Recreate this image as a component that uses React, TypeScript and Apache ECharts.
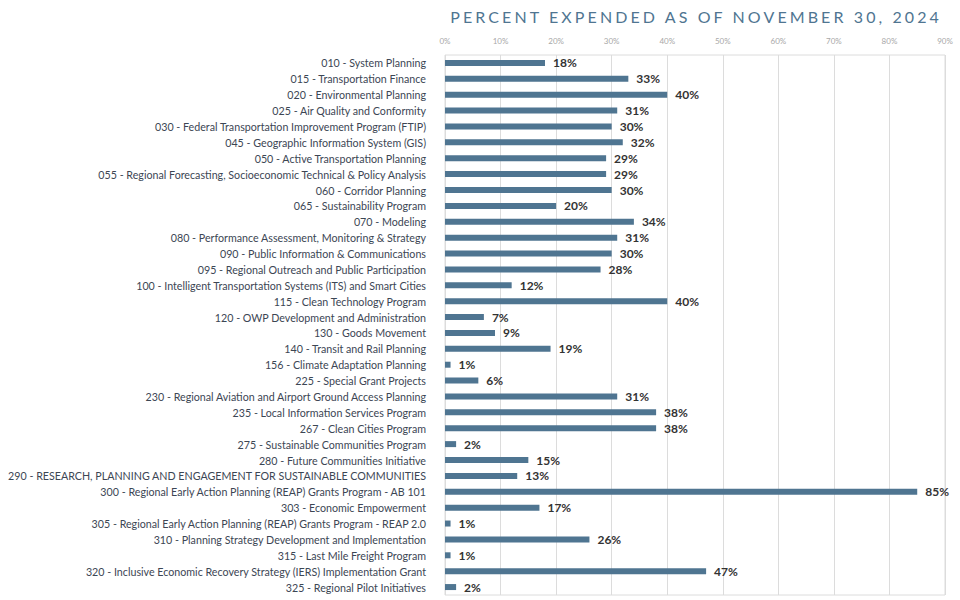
import React, { useEffect, useRef } from "react";
import * as echarts from "echarts";

const categories: string[] = [
  "010 - System Planning",
  "015 - Transportation Finance",
  "020 - Environmental Planning",
  "025 - Air Quality and Conformity",
  "030 - Federal Transportation Improvement Program (FTIP)",
  "045 - Geographic Information System (GIS)",
  "050 - Active Transportation Planning",
  "055 - Regional Forecasting, Socioeconomic Technical & Policy Analysis",
  "060 - Corridor Planning",
  "065 - Sustainability Program",
  "070 - Modeling",
  "080 - Performance Assessment, Monitoring & Strategy",
  "090 - Public Information & Communications",
  "095 - Regional Outreach and Public Participation",
  "100 - Intelligent Transportation Systems (ITS) and Smart Cities",
  "115 - Clean Technology Program",
  "120 - OWP Development and Administration",
  "130 - Goods Movement",
  "140 - Transit and Rail Planning",
  "156 - Climate Adaptation Planning",
  "225 - Special Grant Projects",
  "230 - Regional Aviation and Airport Ground Access Planning",
  "235 - Local Information Services Program",
  "267 - Clean Cities Program",
  "275 - Sustainable Communities Program",
  "280 - Future Communities Initiative",
  "290 - RESEARCH, PLANNING AND ENGAGEMENT FOR SUSTAINABLE COMMUNITIES",
  "300 - Regional Early Action Planning (REAP) Grants Program - AB 101",
  "303 - Economic Empowerment",
  "305 - Regional Early Action Planning (REAP) Grants Program - REAP 2.0",
  "310 - Planning Strategy Development and Implementation",
  "315 - Last Mile Freight Program",
  "320 - Inclusive Economic Recovery Strategy (IERS) Implementation Grant",
  "325 - Regional Pilot Initiatives",
];

const percentExpended: number[] = [
  18, 33, 40, 31, 30, 32, 29, 29, 30, 20, 34, 31, 30, 28, 12, 40, 7, 9, 19, 1,
  6, 31, 38, 38, 2, 15, 13, 85, 17, 1, 26, 1, 47, 2,
];

const titleText = "PERCENT EXPENDED AS OF NOVEMBER 30, 2024";

export default function App() {
  const ref = useRef<HTMLDivElement>(null);
  useEffect(() => {
    if (!ref.current) return;
    const chart = echarts.init(ref.current, undefined, { renderer: "svg" });
    chart.setOption({
      animation: false,
      backgroundColor: "#ffffff",
      grid: {
        left: 445,
        right: 15,
        top: 55,
        bottom: 5,
        outerBoundsMode: "none",
        containLabel: false,
        show: true,
        borderColor: "#dcdcdc",
        borderWidth: 1,
      },
      xAxis: {
        type: "value",
        position: "top",
        min: 0,
        max: 90,
        interval: 10,
        axisLine: { show: false },
        axisTick: { show: false },
        axisLabel: {
          formatter: "{value}%",
          fontSize: 8,
          color: "#a8a8a8",
          fontFamily: "Lato",
          margin: 10,
        },
        splitLine: { lineStyle: { color: "#dcdcdc", width: 1 } },
      },
      yAxis: {
        type: "category",
        inverse: true,
        data: categories,
        axisLine: { show: false },
        axisTick: { show: false },
        axisLabel: {
          fontSize: 10.7,
          color: "#3c4654",
          fontFamily: "Lato",
          margin: 19,
        },
      },
      series: [
        {
          type: "bar",
          data: percentExpended,
          barWidth: 6,
          itemStyle: { color: "#4f7591" },
          label: {
            show: true,
            position: "right",
            distance: 8,
            formatter: "{c}%",
            fontSize: 12,
            fontWeight: "bold",
            color: "#333333",
            fontFamily: "Lato",
          },
        },
      ],
    });
    return () => chart.dispose();
  }, []);
  return (
    <div style={{ position: "absolute", left: 0, top: 0, width: 960, height: 600 }}>
      <div ref={ref} style={{ position: "absolute", left: 0, top: 0, width: 960, height: 600 }} />
      <div
        style={{
          position: "absolute",
          right: 18,
          top: 7,
          fontFamily: "Lato",
          fontSize: 16,
          letterSpacing: "3.1px",
          color: "#4f7591",
          whiteSpace: "nowrap",
        }}
      >
        {titleText}
      </div>
    </div>
  );
}
